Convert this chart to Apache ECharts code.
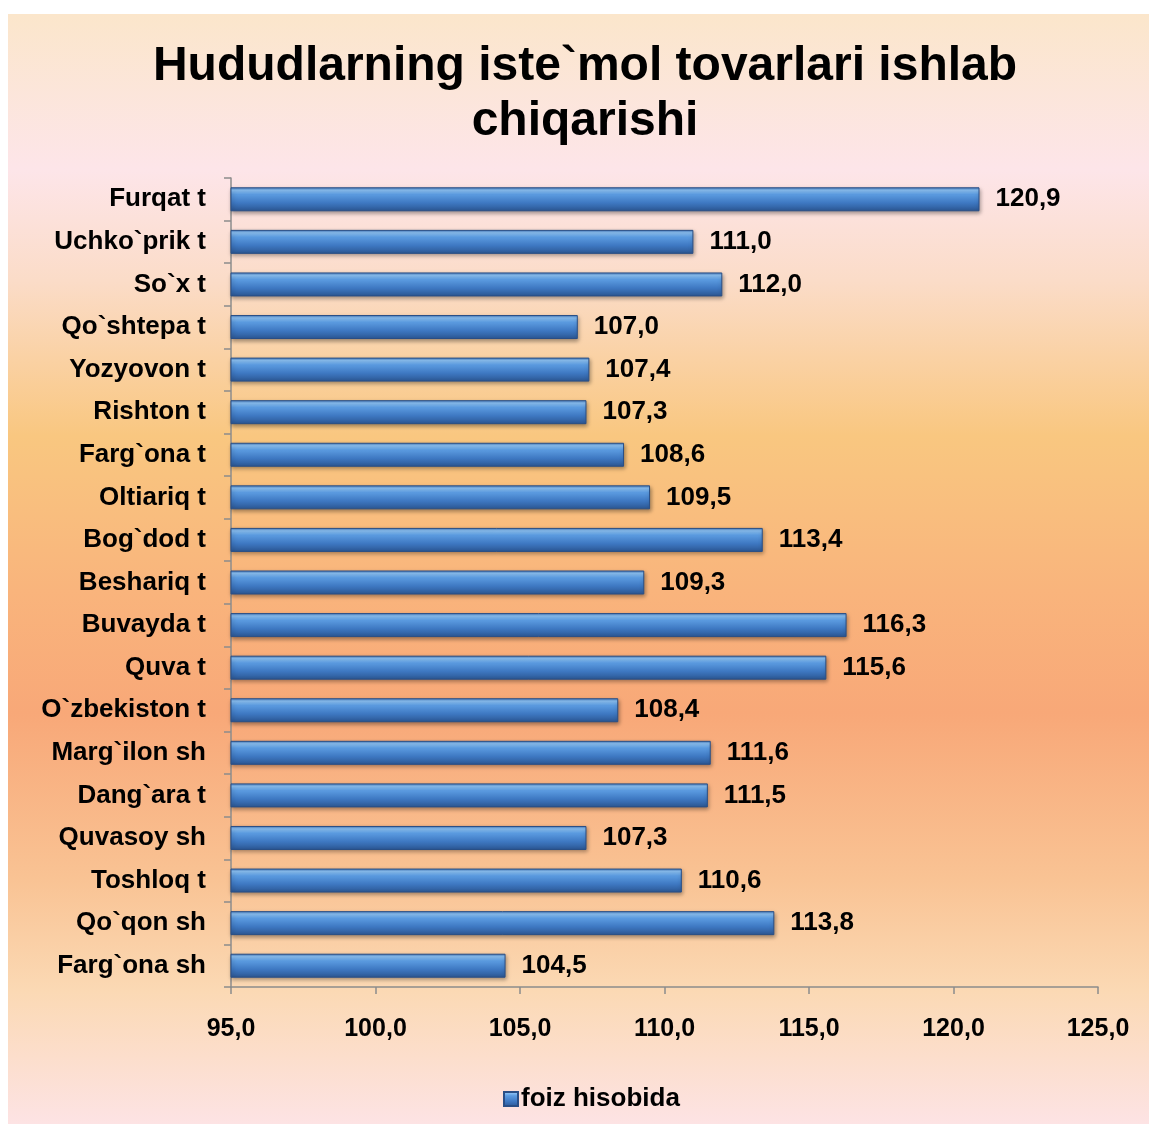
<!DOCTYPE html>
<html>
<head>
<meta charset="utf-8">
<script src="https://cdn.jsdelivr.net/npm/echarts@6/dist/echarts.min.js"></script>
<style>
  html, body { margin: 0; padding: 0; background: #fff; }
  #chart {
    position: absolute;
    left: 8px;
    top: 14px;
    width: 1141px;
    height: 1110px;
    background: linear-gradient(to bottom,
      #fbe6cb 0%, #fde5e9 14%, #fbdcc8 24%, #f9c780 38%,
      #f9b47c 52%, #f8a878 63%, #f9c394 78%, #fbd9b4 88%, #fde3e4 100%);
  }
</style>
</head>
<body>
<div id="chart"></div>
<script>
// categories top to bottom
const categories = [
  'Furqat t', 'Uchko`prik t', 'So`x t', 'Qo`shtepa t', 'Yozyovon t',
  'Rishton t', 'Farg`ona t', 'Oltiariq t', 'Bog`dod t', 'Beshariq t',
  'Buvayda t', 'Quva t', 'O`zbekiston t', 'Marg`ilon sh', 'Dang`ara t',
  'Quvasoy sh', 'Toshloq t', 'Qo`qon sh', 'Farg`ona sh'
]
const values = [
  120.9, 111.0, 112.0, 107.0, 107.4,
  107.3, 108.6, 109.5, 113.4, 109.3,
  116.3, 115.6, 108.4, 111.6, 111.5,
  107.3, 110.6, 113.8, 104.5
]
const seriesName = 'foiz hisobida'
const axisMin = 95
const axisMax = 125
const axisStep = 5

const font = '"Liberation Sans", Arial, sans-serif'
const fmt = (v) => Number(v).toFixed(1).replace('.', ',')

const chart = echarts.init(document.getElementById('chart'))

// cylinder-like shading of the bars
const barColor = {
  type: 'linear', x: 0, y: 0, x2: 0, y2: 1,
  colorStops: [
    { offset: 0, color: '#3f74b8' },
    { offset: 0.12, color: '#8cc2f5' },
    { offset: 0.3, color: '#5b9be0' },
    { offset: 0.65, color: '#3e78c2' },
    { offset: 1, color: '#2b5692' }
  ]
}

const option = {
  backgroundColor: 'transparent',
  animation: false,
  title: {
    text: 'Hududlarning iste`mol tovarlari ishlab\nchiqarishi',
    left: 572,
    top: 20,
    textAlign: 'center',
    textStyle: {
      fontFamily: font,
      fontSize: 48,
      fontWeight: 'bold',
      color: '#000',
      lineHeight: 55
    }
  },
  legend: {
    data: [seriesName],
    left: 490,
    top: 1067,
    itemWidth: 14,
    itemHeight: 14,
    itemGap: 4,
    icon: 'rect',
    textStyle: {
      fontFamily: font,
      fontSize: 26,
      fontWeight: 'bold',
      color: '#000',
      padding: [0, 0, 0, -2]
    }
  },
  grid: {
    left: 223,
    right: 51,
    top: 164,
    bottom: 137,
    containLabel: false
  },
  xAxis: {
    type: 'value',
    min: axisMin,
    max: axisMax,
    interval: axisStep,
    axisLine: { show: true, lineStyle: { color: '#8c8c8c', width: 1.5 } },
    axisTick: { show: true, length: 7, lineStyle: { color: '#8c8c8c', width: 1.5 } },
    splitLine: { show: false },
    axisLabel: {
      margin: 30,
      fontFamily: font,
      fontSize: 25,
      fontWeight: 'bold',
      color: '#000',
      formatter: fmt
    }
  },
  yAxis: {
    type: 'category',
    inverse: true,
    data: categories,
    axisLine: { show: true, lineStyle: { color: '#8c8c8c', width: 1.5 } },
    axisTick: { show: true, length: 7, lineStyle: { color: '#8c8c8c', width: 1.5 } },
    axisLabel: {
      margin: 25,
      fontFamily: font,
      fontSize: 26,
      fontWeight: 'bold',
      color: '#000'
    }
  },
  series: [
    {
      name: seriesName,
      type: 'bar',
      data: values,
      barWidth: 24,
      itemStyle: {
        color: barColor,
        borderColor: '#2a4f86',
        borderWidth: 1,
        shadowBlur: 4,
        shadowOffsetY: 2,
        shadowOffsetX: 1,
        shadowColor: 'rgba(0,0,0,0.35)'
      },
      label: {
        show: true,
        position: 'right',
        distance: 16,
        fontFamily: font,
        fontSize: 26,
        fontWeight: 'bold',
        color: '#000',
        formatter: (p) => fmt(p.value)
      }
    }
  ]
}

chart.setOption(option)
</script>
</body>
</html>
